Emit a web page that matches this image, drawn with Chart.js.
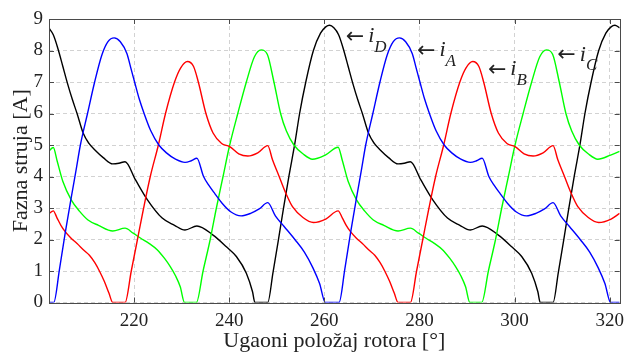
<!DOCTYPE html>
<html>
<head>
<meta charset="utf-8">
<script src="https://cdn.jsdelivr.net/npm/chart.js@4"></script>
<style>
  html, body { margin: 0; padding: 0; background: #fff; }
  #wrap { width: 631px; height: 354px; position: relative; }
</style>
</head>
<body>
<div id="wrap"><canvas id="chart"></canvas></div>
<script>
// phase A (blue)
const angleA = [202.1, 203.1, 204.3, 205.5, 206.8, 207.9, 208.7, 210.2, 211.7, 213.2, 214.5, 215.8, 217.1, 218.5, 219.3, 220.1, 221.1, 222.1, 223.5, 225.2, 226.8, 228.7, 230.7, 232.0, 233.2, 234.6, 235.8, 237.0, 238.5, 240.3, 242.5, 244.5, 246.3, 248.1, 249.7, 251.5, 253.8, 255.8, 257.6, 259.0, 260.2,
  263.1, 264.3, 265.5, 266.8, 267.9, 268.7, 270.2, 271.7, 273.2, 274.5, 275.8, 277.1, 278.5, 279.3, 280.1, 281.1, 282.1, 283.5, 285.2, 286.8, 288.7, 290.7, 292.0, 293.2, 294.6, 295.8, 297.0, 298.5, 300.3, 302.5, 304.5, 306.3, 308.1, 309.7, 311.5, 313.8, 315.8, 317.6, 319.0, 320.2, 322.1];
const currentA = [0, 0, 1.05, 2.2, 3.35, 4.3, 5.0, 6.0, 7.0, 7.85, 8.28, 8.4, 8.28, 7.9, 7.45, 7.0, 6.45, 6.0, 5.45, 5.0, 4.75, 4.55, 4.45, 4.5, 4.58, 4.0, 3.7, 3.45, 3.15, 2.88, 2.75, 2.83, 2.97, 3.17, 2.75, 2.42, 2.0, 1.6, 1.1, 0.6, 0,
  0, 1.05, 2.2, 3.35, 4.3, 5.0, 6.0, 7.0, 7.85, 8.28, 8.4, 8.28, 7.9, 7.45, 7.0, 6.45, 6.0, 5.45, 5.0, 4.75, 4.55, 4.45, 4.5, 4.58, 4.0, 3.7, 3.45, 3.15, 2.88, 2.75, 2.83, 2.97, 3.17, 2.75, 2.42, 2.0, 1.6, 1.1, 0.6, 0, 0];

// phase B (red)
const angleB = [202.1, 203.0, 203.8, 204.6, 205.5, 206.7, 208.0, 209.5, 210.6, 211.7, 212.7, 213.7, 214.7, 215.5, 218.1, 219.4, 220.7, 222.0, 223.4, 225.1, 226.6, 228.5, 229.8, 231.2, 232.5, 233.5, 235.1, 236.6, 238.4, 240.1, 242.0, 243.9, 246.0, 248.1, 249.1, 250.5, 251.9, 253.3, 255.5, 257.7, 260.3, 262.9,
  263.8, 264.6, 265.5, 266.7, 268.0, 269.5, 270.6, 271.7, 272.7, 273.7, 274.7, 275.5, 278.1, 279.4, 280.7, 282.0, 283.4, 285.1, 286.6, 288.5, 289.8, 291.2, 292.5, 293.5, 295.1, 296.6, 298.4, 300.1, 302.0, 303.9, 306.0, 308.1, 309.1, 310.5, 311.9, 313.3, 315.5, 317.7, 320.3, 322.1];
const currentB = [2.82, 2.91, 2.68, 2.45, 2.25, 2.05, 1.87, 1.65, 1.5, 1.27, 1.0, 0.68, 0.3, 0, 0, 1.0, 2.0, 3.0, 4.0, 5.0, 6.0, 7.0, 7.45, 7.65, 7.49, 7.0, 6.0, 5.38, 5.05, 4.95, 4.72, 4.65, 4.75, 4.98, 4.53, 4.0, 3.47, 3.04, 2.7, 2.54, 2.65, 2.91,
  2.68, 2.45, 2.25, 2.05, 1.87, 1.65, 1.5, 1.27, 1.0, 0.68, 0.3, 0, 0, 1.0, 2.0, 3.0, 4.0, 5.0, 6.0, 7.0, 7.45, 7.65, 7.49, 7.0, 6.0, 5.38, 5.05, 4.95, 4.72, 4.65, 4.75, 4.98, 4.53, 4.0, 3.47, 3.04, 2.7, 2.54, 2.65, 2.83];

// phase C (green)
const angleC = [202.1, 203.0, 203.8, 205.0, 206.8, 208.5, 210.3, 212.5, 215.5, 218.1, 219.8, 221.4, 223.2, 224.9, 226.4, 227.6, 228.7, 229.7, 230.6, 233.1, 234.5, 236.0, 237.3, 238.7, 240.1, 241.8, 243.6, 245.3, 246.7, 248.0, 249.4, 250.8, 252.0, 253.6, 255.5, 257.5, 260.2, 262.9,
  263.8, 265.0, 266.8, 268.5, 270.3, 272.5, 275.5, 278.1, 279.8, 281.4, 283.2, 284.9, 286.4, 287.6, 288.7, 289.7, 290.6, 293.1, 294.5, 296.0, 297.3, 298.7, 300.1, 301.8, 303.6, 305.3, 306.7, 308.0, 309.4, 310.8, 312.0, 313.6, 315.5, 317.5, 320.2, 322.1];
const currentC = [4.81, 4.92, 4.5, 3.85, 3.25, 2.9, 2.62, 2.45, 2.27, 2.36, 2.2, 2.04, 1.87, 1.67, 1.4, 1.14, 0.85, 0.5, 0, 0, 1.0, 2.0, 3.0, 4.0, 5.0, 6.0, 7.0, 7.8, 8.02, 7.88, 7.0, 6.0, 5.45, 5.0, 4.72, 4.55, 4.68, 4.93,
  4.5, 3.85, 3.25, 2.9, 2.62, 2.45, 2.27, 2.36, 2.2, 2.04, 1.87, 1.67, 1.4, 1.14, 0.85, 0.5, 0, 0, 1.0, 2.0, 3.0, 4.0, 5.0, 6.0, 7.0, 7.8, 8.02, 7.88, 7.0, 6.0, 5.45, 5.0, 4.72, 4.55, 4.68, 4.8];

// phase D (black)
const angleD = [202.1, 203.0, 204.0, 205.0, 206.0, 207.0, 208.0, 209.3, 210.5, 211.7, 213.5, 215.5, 216.8, 218.1, 220.3, 222.8, 225.9, 228.5, 230.7, 233.2, 236.6, 239.4, 241.5, 243.6, 244.9, 245.4, 248.1, 249.2, 250.3, 251.4, 252.6, 253.8, 254.8, 256.1, 257.7, 259.2, 260.3, 261.1, 262.0,
  263.0, 264.0, 265.0, 266.0, 267.0, 268.0, 269.3, 270.5, 271.7, 273.5, 275.5, 276.8, 278.1, 280.3, 282.8, 285.9, 288.5, 290.7, 293.2, 296.6, 299.4, 301.5, 303.6, 304.9, 305.4, 308.1, 309.2, 310.3, 311.4, 312.6, 313.8, 314.8, 316.1, 317.7, 319.2, 320.3, 321.1, 322.1];
const currentD = [8.71, 8.5, 8.05, 7.5, 6.95, 6.45, 6.0, 5.37, 5.05, 4.85, 4.6, 4.4, 4.42, 4.47, 3.89, 3.26, 2.68, 2.45, 2.3, 2.43, 2.14, 1.77, 1.46, 0.93, 0.34, 0, 0, 0.95, 1.95, 2.98, 4.05, 5.05, 6.0, 7.0, 8.0, 8.55, 8.75, 8.8, 8.72,
  8.5, 8.05, 7.5, 6.95, 6.45, 6.0, 5.37, 5.05, 4.85, 4.6, 4.4, 4.42, 4.47, 3.89, 3.26, 2.68, 2.45, 2.3, 2.43, 2.14, 1.77, 1.46, 0.93, 0.34, 0, 0, 0.95, 1.95, 2.98, 4.05, 5.05, 6.0, 7.0, 8.0, 8.55, 8.75, 8.8, 8.72];

const xTicks = [220, 240, 260, 280, 300, 320];
const yTicks = [0, 1, 2, 3, 4, 5, 6, 7, 8, 9];

// arrow labels: phase letter, anchor angle, anchor current
const labelNames = ["D", "A", "B", "C"];
const labelAngles = [264.5, 279.5, 294.4, 309.0];
const labelCurrents = [8.26, 7.82, 7.22, 7.68];

const serif = "'Liberation Serif', 'Times New Roman', serif";

function toPoints(xs, ys) {
  return xs.map((x, i) => ({ x, y: ys[i] }));
}

function series(xs, ys, color) {
  return {
    data: toPoints(xs, ys),
    borderColor: color,
    borderWidth: 1.4,
    pointRadius: 0,
    fill: false,
    cubicInterpolationMode: "monotone",
  };
}

const framePlugin = {
  id: "frame",
  afterDraw(chart) {
    const { ctx, chartArea: a, scales: { x, y } } = chart;
    ctx.save();
    ctx.strokeStyle = "#4a4a4a";
    ctx.lineWidth = 1;
    ctx.beginPath();
    xTicks.forEach((v) => {
      const px = Math.round(x.getPixelForValue(v)) + 0.5;
      ctx.moveTo(px, a.bottom);
      ctx.lineTo(px, a.bottom - 5);
      ctx.moveTo(px, a.top);
      ctx.lineTo(px, a.top + 5);
    });
    yTicks.forEach((v) => {
      const py = Math.round(y.getPixelForValue(v)) + 0.5;
      ctx.moveTo(a.left, py);
      ctx.lineTo(a.left + 5, py);
      ctx.moveTo(a.right, py);
      ctx.lineTo(a.right - 5, py);
    });
    ctx.stroke();
    ctx.strokeRect(Math.round(a.left) + 0.5, Math.round(a.top) + 0.5,
      Math.round(a.right - a.left), Math.round(a.bottom - a.top));
    ctx.restore();
  },
};

const labelPlugin = {
  id: "phaseLabels",
  afterDatasetsDraw(chart) {
    const { ctx, scales: { x, y } } = chart;
    ctx.save();
    ctx.fillStyle = "#222";
    ctx.textBaseline = "alphabetic";
    ctx.textAlign = "left";
    labelNames.forEach((name, i) => {
      const px = x.getPixelForValue(labelAngles[i]);
      const py = y.getPixelForValue(labelCurrents[i]);
      ctx.font = "22px 'DejaVu Sans'";
      ctx.fillText("\u2190", px, py + 0.5);
      const wArrow = ctx.measureText("\u2190").width;
      ctx.font = "italic 22px " + serif;
      const ix = px + wArrow + 4;
      ctx.fillText("i", ix, py);
      const wi = ctx.measureText("i").width;
      ctx.font = "italic 17px " + serif;
      ctx.fillText(name, ix + wi, py + 9.5);
    });
    ctx.restore();
  },
};

new Chart(document.getElementById("chart"), {
  type: "line",
  data: {
    datasets: [
      series(angleA, currentA, "#0000ff"),
      series(angleB, currentB, "#ff0000"),
      series(angleC, currentC, "#00ff00"),
      series(angleD, currentD, "#000000"),
    ],
  },
  options: {
    responsive: true,
    maintainAspectRatio: false,
    animation: false,
    layout: { padding: { top: 19, right: 5, left: 0, bottom: 0 } },
    plugins: {
      legend: { display: false },
      tooltip: { enabled: false },
    },
    scales: {
      x: {
        type: "linear",
        min: 202.1,
        max: 322.1,
        afterBuildTicks: (scale) => {
          scale.ticks = xTicks.map((v) => ({ value: v }));
        },
        afterFit: (scale) => {
          scale.height = 51.5;
        },
        grid: { color: "#d2d2d2", lineWidth: 1, drawTicks: false },
        border: { display: false, dash: [4, 3] },
        ticks: {
          padding: 7,
          color: "#222",
          font: { family: serif, size: 19 },
        },
        title: {
          display: true,
          text: "Ugaoni položaj rotora [°]",
          color: "#222",
          font: { family: serif, size: 22 },
          padding: { top: 0, bottom: 0 },
        },
      },
      y: {
        min: 0,
        max: 9,
        afterBuildTicks: (scale) => {
          scale.ticks = yTicks.map((v) => ({ value: v }));
        },
        afterFit: (scale) => {
          scale.width = 49;
        },
        grid: { color: "#d2d2d2", lineWidth: 1, drawTicks: false },
        border: { display: false, dash: [4, 3] },
        ticks: {
          padding: 6,
          color: "#222",
          font: { family: serif, size: 19 },
        },
        title: {
          display: true,
          text: "Fazna struja [A]",
          color: "#222",
          font: { family: serif, size: 22 },
          padding: { top: 8, bottom: 0 },
        },
      },
    },
  },
  plugins: [framePlugin, labelPlugin],
});
</script>
</body>
</html>
